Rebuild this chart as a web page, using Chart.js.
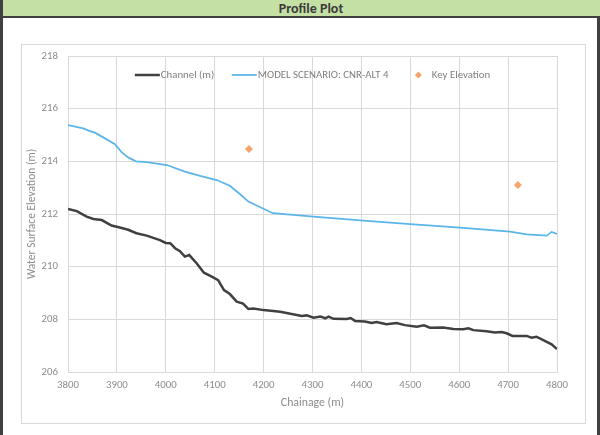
<!DOCTYPE html>
<html>
<head>
<meta charset="utf-8">
<script src="https://cdn.jsdelivr.net/npm/chart.js@4.4.1/dist/chart.umd.min.js"></script>
<style>
  body { margin: 0; background: #fff; }
  #page { position: relative; width: 600px; height: 435px; overflow: hidden; background: #fff; }
  #bar { position: absolute; left: 0; top: 0; width: 600px; height: 16px; background: #c5e0a5; border-bottom: 2px solid #404040; }
  #bar span { position: absolute; left: 0; width: 622px; top: 0; line-height: 16px; text-align: center;
    font: bold 14px Calibri, Carlito, Lato, sans-serif; color: #3b3b3b; }
  #lb { position: absolute; left: 0; top: 0; width: 3px; height: 435px; background: #404040; }
  #rb { position: absolute; left: 597px; top: 16px; width: 3px; height: 419px; background: #404040; }
  #box { position: absolute; left: 21px; top: 44px; width: 563px; height: 378px; border: 1px solid #d9d9d9; }
  #myChart { position: absolute; left: 0; top: 0; }
</style>
</head>
<body>
<div id="page">
  <div id="bar"><span>Profile Plot</span></div>
  <div id="lb"></div>
  <div id="rb"></div>
  <div id="box"></div>
  <canvas id="myChart" width="600" height="435"></canvas>
</div>
<script>
// channel bed
const channelX = [3800,3818,3838,3852,3869,3889,3906,3923,3940,3961,3988,4000,4009,4019,4029,4039,4048,4063,4078,4094,
  4107,4119,4131,4145,4158,4169,4179,4200,4234,4278,4288,4302,4316,4326,4333,4343,4370,4378,4387,4407,
  4421,4431,4451,4472,4489,4513,4528,4540,4567,4588,4608,4619,4629,4656,4673,4687,4697,4709,4738,4748,
  4758,4772,4789,4800];
const channelY = [212.19,212.11,211.90,211.81,211.77,211.56,211.49,211.40,211.27,211.18,211.01,210.90,210.89,210.70,210.59,210.38,210.44,210.13,209.77,209.62,
  209.49,209.11,208.96,208.67,208.60,208.39,208.41,208.35,208.29,208.13,208.15,208.06,208.11,208.04,208.10,208.02,208.01,208.05,207.94,207.92,
  207.86,207.90,207.81,207.86,207.78,207.72,207.77,207.68,207.69,207.63,207.62,207.66,207.59,207.55,207.50,207.52,207.47,207.37,207.37,207.30,
  207.34,207.21,207.05,206.87];

// model scenario water surface
const modelX = [3800,3831,3845,3855,3872,3896,3910,3923,3939,3961,4002,4039,4070,4104,4131,4152,4169,4219,4302,4404,
  4500,4602,4704,4738,4779,4789,4800];
const modelY = [215.38,215.25,215.15,215.09,214.91,214.65,214.34,214.15,214.00,213.97,213.86,213.61,213.45,213.29,213.07,212.75,212.47,212.03,211.90,211.75,
  211.62,211.48,211.33,211.23,211.18,211.32,211.24];

// key elevations
const keyX = [4170, 4720];
const keyY = [214.47, 213.10];

const seriesNames = ['Channel (m)', 'MODEL SCENARIO: CNR-ALT 4', 'Key Elevation'];
const xTicks = [3800, 4800, 100];
const yTicks = [206, 218, 2];

const FONT = 'Calibri, Carlito, Lato, sans-serif';
const pts = (xs, ys) => xs.map((x, i) => ({x: x, y: ys[i]}));

// legend drawn inside the plot area, like the Excel one
const insideLegend = {
  id: 'insideLegend',
  afterDatasetsDraw(chart) {
    const c = chart.ctx, a = chart.chartArea;
    c.save();
    c.font = '10.8px ' + FONT;
    c.textBaseline = 'middle';
    const sw = 25, gap = 17.5;
    let tot = 0;
    chart.data.datasets.forEach(d => { tot += sw + 1 + c.measureText(d.label).width; });
    tot += gap * (chart.data.datasets.length - 1);
    let x = (a.left + a.right) / 2 - tot / 2;
    const y = 75;
    chart.data.datasets.forEach(d => {
      if (d.showLine === false) {
        c.fillStyle = d.backgroundColor;
        c.beginPath();
        const cx = x + sw / 2, r = 3.5;
        c.moveTo(cx, y - r); c.lineTo(cx + r, y); c.lineTo(cx, y + r); c.lineTo(cx - r, y);
        c.closePath(); c.fill();
      } else {
        c.strokeStyle = d.borderColor;
        c.lineWidth = d.borderWidth;
        c.beginPath(); c.moveTo(x, y); c.lineTo(x + sw, y); c.stroke();
      }
      x += sw + 1;
      c.fillStyle = '#7f7f7f';
      c.fillText(d.label, x, y);
      x += c.measureText(d.label).width + gap;
    });
    c.restore();
  }
};

new Chart(document.getElementById('myChart'), {
  type: 'line',
  data: {
    datasets: [{
      label: seriesNames[0],
      data: pts(channelX, channelY),
      borderColor: '#404040',
      borderWidth: 2.5,
      pointRadius: 0,
      tension: 0
    }, {
      label: seriesNames[1],
      data: pts(modelX, modelY),
      borderColor: '#5bb5e8',
      borderWidth: 1.75,
      pointRadius: 0,
      tension: 0
    }, {
      label: seriesNames[2],
      data: pts(keyX, keyY),
      showLine: false,
      backgroundColor: '#f4a46c',
      borderColor: '#f4a46c',
      pointStyle: 'rectRot',
      pointRadius: 4,
      pointBorderWidth: 0
    }]
  },
  options: {
    responsive: false,
    devicePixelRatio: 1,
    animation: false,
    layout: { padding: { left: 22, right: 43, top: 56, bottom: 13 } },
    plugins: { legend: { display: false }, tooltip: { enabled: false } },
    scales: {
      x: {
        type: 'linear',
        min: xTicks[0], max: xTicks[1],
        afterFit(s) { s.height = 50; },
        ticks: { stepSize: xTicks[2], color: '#8c8c8c', font: { family: FONT, size: 10.8 }, padding: 7, maxRotation: 0,
          callback: v => String(v) },
        grid: { color: '#d9d9d9', drawTicks: false },
        border: { color: '#d9d9d9' },
        title: { display: true, text: 'Chainage (m)', color: '#8c8c8c', font: { family: FONT, size: 11.8 }, padding: { top: 0, bottom: 12 } }
      },
      y: {
        min: yTicks[0], max: yTicks[1],
        afterFit(s) { s.width = 46; },
        ticks: { stepSize: yTicks[2], color: '#8c8c8c', font: { family: FONT, size: 10.8 }, padding: 10 },
        grid: { color: '#d9d9d9', drawTicks: false },
        border: { color: '#d9d9d9' },
        title: { display: true, text: 'Water Surface Elevation (m)', color: '#8c8c8c', font: { family: FONT, size: 11.5 }, padding: { top: 3, bottom: 0 } }
      }
    }
  },
  plugins: [insideLegend]
});
</script>
</body>
</html>
